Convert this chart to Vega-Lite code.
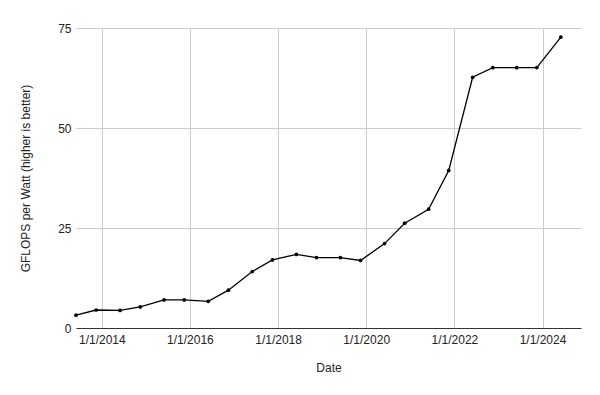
{
  "$schema": "https://vega.github.io/schema/vega-lite/v6.json",
  "width": 505,
  "height": 300,
  "autosize": {"type": "none"},
  "padding": {"left": 76, "top": 28, "right": 19, "bottom": 67},
  "background": "white",
  "config": {
    "font": "Liberation Sans",
    "view": {"stroke": null},
    "axis": {
      "labelFont": "Liberation Sans",
      "titleFont": "Liberation Sans",
      "labelFontSize": 12,
      "titleFontSize": 12,
      "titleFontWeight": "normal",
      "labelColor": "#222222",
      "titleColor": "#222222",
      "gridColor": "#cccccc",
      "gridWidth": 1,
      "gridOpacity": 1,
      "ticks": false
    }
  },
  "data": {
    "values": [
      {"date": "2013-06-01", "gflops": 3.21},
      {"date": "2013-11-15", "gflops": 4.50},
      {"date": "2014-06-01", "gflops": 4.39},
      {"date": "2014-11-15", "gflops": 5.27},
      {"date": "2015-06-01", "gflops": 7.03},
      {"date": "2015-11-15", "gflops": 7.03},
      {"date": "2016-06-01", "gflops": 6.67},
      {"date": "2016-11-15", "gflops": 9.46},
      {"date": "2017-06-01", "gflops": 14.11},
      {"date": "2017-11-15", "gflops": 17.01},
      {"date": "2018-06-01", "gflops": 18.40},
      {"date": "2018-11-15", "gflops": 17.60},
      {"date": "2019-06-01", "gflops": 17.60},
      {"date": "2019-11-15", "gflops": 16.88},
      {"date": "2020-06-01", "gflops": 21.10},
      {"date": "2020-11-15", "gflops": 26.20},
      {"date": "2021-06-01", "gflops": 29.70},
      {"date": "2021-11-15", "gflops": 39.38},
      {"date": "2022-06-01", "gflops": 62.68},
      {"date": "2022-11-15", "gflops": 65.09},
      {"date": "2023-06-01", "gflops": 65.09},
      {"date": "2023-11-15", "gflops": 65.10},
      {"date": "2024-06-01", "gflops": 72.73}
    ]
  },
  "encoding": {
    "x": {
      "field": "date",
      "type": "temporal",
      "title": "Date",
      "scale": {"type": "utc", "domain": [{"year": 2013, "month": 6, "date": 1, "utc": true}, {"year": 2024, "month": 11, "date": 15, "utc": true}]},
      "axis": {
        "values": [
          {"year": 2014, "month": 1, "date": 1, "utc": true},
          {"year": 2016, "month": 1, "date": 1, "utc": true},
          {"year": 2018, "month": 1, "date": 1, "utc": true},
          {"year": 2020, "month": 1, "date": 1, "utc": true},
          {"year": 2022, "month": 1, "date": 1, "utc": true},
          {"year": 2024, "month": 1, "date": 1, "utc": true}
        ],
        "labelExpr": "utcFormat(datum.value, '%-m/%-d/%Y')",
        "labelPadding": 6,
        "titlePadding": 17,
        "domainColor": "#333333",
        "domainWidth": 1,
        "labelFlush": false,
        "labelOverlap": false
      }
    },
    "y": {
      "field": "gflops",
      "type": "quantitative",
      "title": "GFLOPS per Watt (higher is better)",
      "scale": {"domain": [0, 75], "nice": false},
      "axis": {
        "values": [0, 25, 50, 75],
        "domain": false,
        "labelPadding": 5,
        "titlePadding": 25
      }
    }
  },
  "layer": [
    {"mark": {"type": "line", "color": "#000000", "strokeWidth": 1.3}},
    {"mark": {"type": "point", "filled": true, "color": "#000000", "size": 14, "opacity": 1}}
  ]
}
